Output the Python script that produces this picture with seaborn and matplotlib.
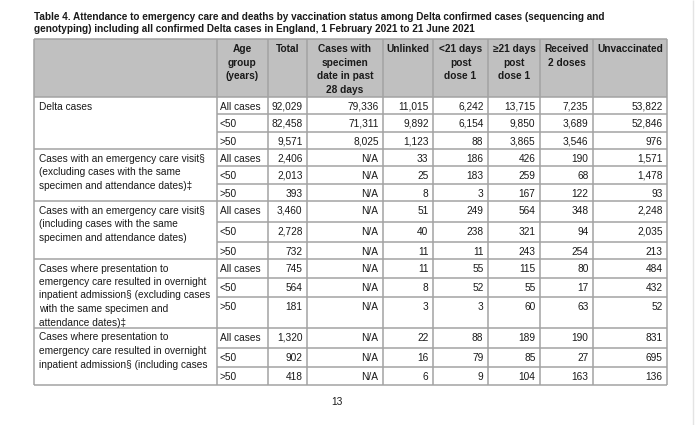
import matplotlib
matplotlib.use("Agg")
import matplotlib.pyplot as plt
import seaborn as sns

# ===== DONNEES =====
title_lines = [
    "Table 4. Attendance to emergency care and deaths by vaccination status among Delta confirmed cases (sequencing and",
    "genotyping) including all confirmed Delta cases in England, 1 February 2021 to 21 June 2021",
]
headers = ["", "Age\ngroup\n(years)", "Total", "Cases with\nspecimen\ndate in past\n28 days",
           "Unlinked", "<21 days\npost\ndose 1", "\u226521 days\npost\ndose 1", "Received\n2 doses",
           "Unvaccinated"]
block_labels = [
    ["Delta cases"],
    ["Cases with an emergency care visit\u00a7", "(excluding cases with the same",
     "specimen and attendance dates)\u2021"],
    ["Cases with an emergency care visit\u00a7", "(including cases with the same",
     "specimen and attendance dates)"],
    ["Cases where presentation to", "emergency care resulted in overnight",
     "inpatient admission\u00a7 (excluding cases", "with the same specimen and",
     "attendance dates)\u2021"],
    ["Cases where presentation to", "emergency care resulted in overnight",
     "inpatient admission\u00a7 (including cases"],
]
age_groups = ["All cases", "<50", ">50"]
total = [92029, 82458, 9571, 2406, 2013, 393, 3460, 2728, 732, 745, 564, 181, 1320, 902, 418]
specimen_28d = [79336, 71311, 8025, "N/A", "N/A", "N/A", "N/A", "N/A", "N/A",
                "N/A", "N/A", "N/A", "N/A", "N/A", "N/A"]
unlinked = [11015, 9892, 1123, 33, 25, 8, 51, 40, 11, 11, 8, 3, 22, 16, 6]
lt21_dose1 = [6242, 6154, 88, 186, 183, 3, 249, 238, 11, 55, 52, 3, 88, 79, 9]
ge21_dose1 = [13715, 9850, 3865, 426, 259, 167, 564, 321, 243, 115, 55, 60, 189, 85, 104]
two_doses = [7235, 3689, 3546, 190, 68, 122, 348, 94, 254, 80, 17, 63, 190, 27, 163]
unvaccinated = [53822, 52846, 976, 1571, 1478, 93, 2248, 2035, 213, 484, 432, 52, 831, 695, 136]
page_number = "13"

# ===== MISE EN PAGE (pixels) =====
col_edges = [34, 217, 268, 307, 383, 433, 488, 540, 593, 667]
header_top, header_bottom = 39, 97
row_edges = [97, 114, 132, 149, 166, 184, 201, 222, 242, 259, 278, 297, 328, 348, 367, 385]
line_step = 13.5
grid_col = "#a3a3a3"
header_bg = "#c0c0c0"
text_col = "#1a1a1a"

sns.set_theme(style="white")
plt.rcParams["font.family"] = ["Liberation Sans", "DejaVu Sans"]
fs = 7.25

fig = plt.figure(figsize=(7, 4.25), dpi=100)
ax = fig.add_axes([0, 0, 1, 1])
ax.set_xlim(0, 700)
ax.set_ylim(425, 0)
ax.axis("off")

# titre
for i, t in enumerate(title_lines):
    ax.text(34, 17 + i * 11.7, t, fontsize=7.2, fontweight="bold", va="center", ha="left",
            color=text_col)

# en-tete
ax.fill_between([col_edges[0], col_edges[-1]], header_top, header_bottom, color=header_bg, lw=0)
for j, h in enumerate(headers):
    cx = (col_edges[j] + col_edges[j + 1]) / 2
    for k, part in enumerate(h.split("\n")):
        ax.text(cx, 49 + k * line_step, part, fontsize=fs, fontweight="bold",
                ha="center", va="center", color=text_col)

# colonnes de valeurs
columns = [total, specimen_28d, unlinked, lt21_dose1, ge21_dose1, two_doses, unvaccinated]
for r in range(len(total)):
    top = row_edges[r]
    y = top + 9.8
    ax.text(col_edges[1] + 2.5, y, age_groups[r % 3], fontsize=fs, ha="left", va="center",
            color=text_col)
    for c, col in enumerate(columns):
        v = col[r]
        s = f"{v:,}" if isinstance(v, int) else v
        ax.text(col_edges[c + 3] - 4.5, y, s, fontsize=fs, ha="right", va="center",
                color=text_col)

# libelles des blocs
for b, lines in enumerate(block_labels):
    top = row_edges[b * 3]
    for k, t in enumerate(lines):
        ax.text(col_edges[0] + 5, top + 9.5 + k * line_step, t, fontsize=fs,
                ha="left", va="center", color=text_col)

# grille
lw = 1.1
ax.hlines([header_top, header_bottom], col_edges[0], col_edges[-1], color=grid_col, lw=lw)
for r, y in enumerate(row_edges[1:], start=1):
    x0 = col_edges[0] if r % 3 == 0 else col_edges[1]
    ax.hlines(y, x0, col_edges[-1], color=grid_col, lw=lw)
ax.vlines(col_edges, header_top, row_edges[-1], color=grid_col, lw=lw)

# bord droit de la capture et numero de page
ax.vlines(693, 0, 425, color="#e4e4e4", lw=1)
ax.text(337, 402, page_number, fontsize=fs, ha="center", va="center", color=text_col)

fig.savefig("out.png", dpi=100, facecolor="white")
